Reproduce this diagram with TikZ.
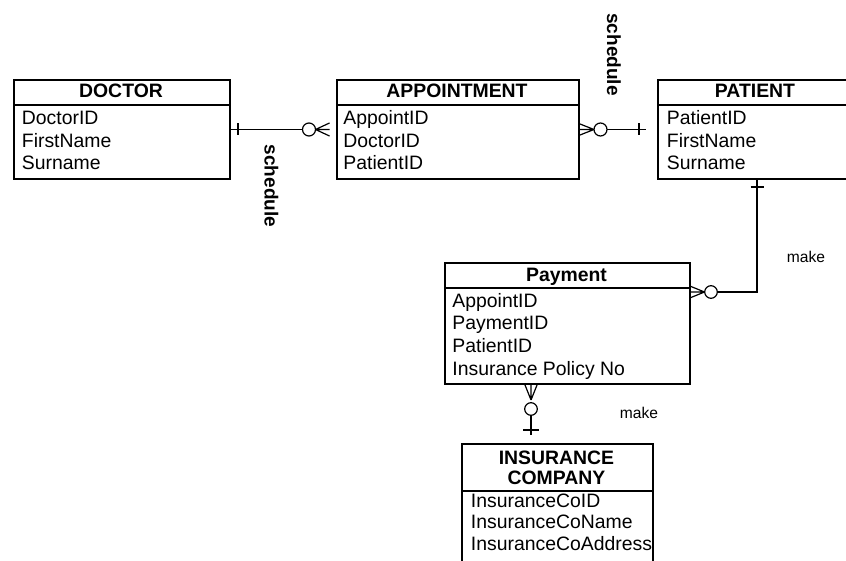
\documentclass[tikz,border=0pt]{standalone}
\usepackage{fontspec}
\setmainfont{Liberation Sans}
\usetikzlibrary{positioning,calc}

\tikzset{
  entity/.style={draw, line width=1pt, anchor=north west, inner sep=0pt},
  head/.style={font=\fontsize{9.7}{10.25}\selectfont\bfseries, align=center, anchor=base, inner sep=0pt},
  attr/.style={font=\fontsize{9.7}{11.5}\selectfont, anchor=base west, inner sep=0pt},
  conn/.style={line width=0.6pt},
  rel/.style={font=\fontsize{9.5}{11}\selectfont\bfseries, rotate=-90, inner sep=0pt},
  verb/.style={font=\fontsize{7.8}{9}\selectfont, inner sep=0pt}
}

\begin{document}
\begin{tikzpicture}[x=0.5pt, y=-0.5pt]
  \useasboundingbox (0,0) rectangle (846,561);
  \clip (0,0) rectangle (846,561);

  % Doctor
  \node[entity, minimum width=108pt, minimum height=49.5pt] (doctor) at (13,79) {};
  \draw[line width=1pt] ($(doctor.north west)+(0,26)$) -- ($(doctor.north east)+(0,26)$);
  \node[head] (doctorhead) at (121,98) {DOCTOR};
  \foreach \a [count=\i] in {DoctorID,FirstName,Surname}
    \node[attr] (doctor\i) at (21.5,125+22.5*\i-22.5) {\a};

  % Appointment
  \node[entity, minimum width=121pt, minimum height=49.5pt] (appointment) at (336,79) {};
  \draw[line width=1pt] ($(appointment.north west)+(0,26)$) -- ($(appointment.north east)+(0,26)$);
  \node[head] (appointmenthead) at (457,98) {APPOINTMENT};
  \foreach \a [count=\i] in {AppointID,DoctorID,PatientID}
    \node[attr] (appointment\i) at (343,125+22.5*\i-22.5) {\a};

  % Patient
  \node[entity, minimum width=98pt, minimum height=49.5pt] (patient) at (657,79) {};
  \draw[line width=1pt] ($(patient.north west)+(0,26)$) -- ($(patient.north east)+(0,26)$);
  \node[head] (patienthead) at (755,98) {PATIENT};
  \foreach \a [count=\i] in {PatientID,FirstName,Surname}
    \node[attr] (patient\i) at (666.5,125+22.5*\i-22.5) {\a};

  % Payment
  \node[entity, minimum width=122.5pt, minimum height=60.5pt] (payment) at (444,262) {};
  \draw[line width=1pt] ($(payment.north west)+(0,26)$) -- ($(payment.north east)+(0,26)$);
  \node[head] (paymenthead) at (566.5,282) {Payment};
  \foreach \a [count=\i] in {AppointID,PaymentID,PatientID,Insurance Policy No}
    \node[attr] (payment\i) at (452,307+22.7*\i-22.7) {\a};

  % Insurance company
  \node[entity, minimum width=95.5pt, minimum height=65pt] (insurance) at (461,443) {};
  \draw[line width=1pt] ($(insurance.north west)+(0,48)$) -- ($(insurance.north east)+(0,48)$);
  \node[head] (insurancehead) at (556.5,484.5) {INSURANCE\\COMPANY};
  \foreach \a [count=\i] in {InsuranceCoID,InsuranceCoName,InsuranceCoAddress}
    \node[attr] (insurance\i) at (470.5,507+21.5*\i-21.5) {\a};

  % doctor -- appointment
  \coordinate (c1) at ($(appointment.west)+(-27,0)$);
  \coordinate (f1) at ($(c1)+(6.5,0)$);
  \draw[conn] (doctor.east) -- ($(c1)+(-6.5,0)$);
  \draw[conn] ($(doctor.east)+(7,-6)$) -- ++(0,12);
  \draw[conn] (c1) circle[radius=3.25pt];
  \draw[conn] (f1) -- ++(14,-6.5) (f1) -- ++(14,0) (f1) -- ++(14,6.5);
  \node[rel] (schedule1) at (271.5,186) {schedule};

  % appointment -- patient
  \coordinate (f2) at ($(appointment.east)+(14,0)$);
  \coordinate (c2) at ($(f2)+(6.5,0)$);
  \draw[conn] (f2) -- (appointment.east) (f2) -- ($(appointment.east)+(0,-5.5)$) (f2) -- ($(appointment.east)+(0,5.5)$);
  \draw[conn] (c2) circle[radius=3.25pt];
  \draw[conn] ($(c2)+(6.5,0)$) -- ($(patient.west)+(-11,0)$);
  \draw[conn] ($(patient.west)+(-18,-6)$) -- ++(0,12);
  \node[rel] (schedule2) at (614,54.5) {schedule};

  % patient -- payment
  \coordinate (pv) at ($(patient.south west)+(100,0)$);
  \coordinate (pe) at ($(payment.north east)+(0,30)$);
  \coordinate (c3) at ($(pe)+(20,0)$);
  \draw[conn] (pv) |- ($(c3)+(6.5,0)$);
  \draw[conn] ($(pv)+(-6.5,7)$) -- ++(13,0);
  \draw[conn] (c3) circle[radius=3.15pt];
  \draw[conn] ($(pe)+(13.5,0)$) -- (pe) ($(pe)+(13.5,0)$) -- ($(pe)+(0,-5.5)$) ($(pe)+(13.5,0)$) -- ($(pe)+(0,5.5)$);
  \node[verb] (make1) at (806,257) {make};

  % payment -- insurance company
  \coordinate (py) at ($(payment.south west)+(87,0)$);
  \coordinate (c4) at ($(py)+(0,24)$);
  \draw[conn] ($(py)+(0,15)$) -- (py) ($(py)+(0,15)$) -- ($(py)+(-6,0)$) ($(py)+(0,15)$) -- ($(py)+(6,0)$);
  \draw[conn] (c4) circle[radius=3.15pt];
  \draw[conn] ($(c4)+(0,6.3)$) -- ($(insurance.north west)+(70,-8)$);
  \draw[conn] ($(py)+(-8,45)$) -- ++(16,0);
  \node[verb] (make2) at (639,413) {make};
\end{tikzpicture}
\end{document}
